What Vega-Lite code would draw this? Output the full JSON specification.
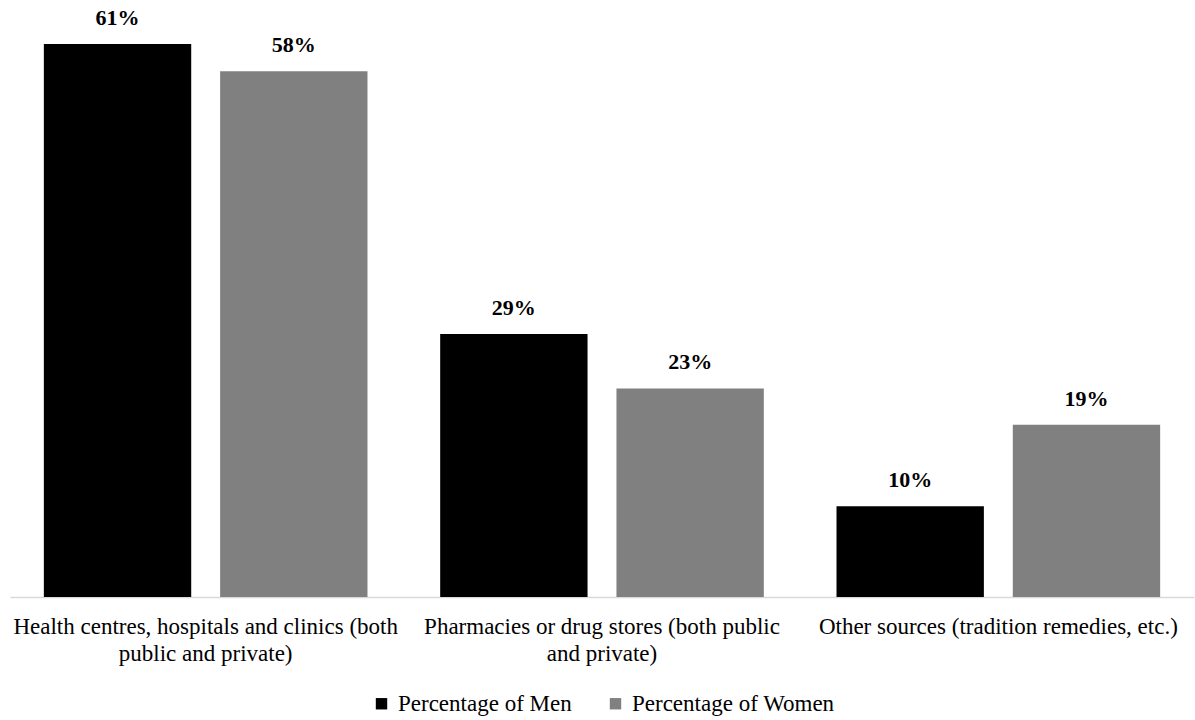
{
  "$schema": "https://vega.github.io/schema/vega-lite/v6.json",
  "width": 1184,
  "height": 597,
  "padding": {"left": 10, "top": 0, "right": 1, "bottom": 5},
  "background": "white",
  "config": {
    "font": "Times New Roman, Liberation Serif, DejaVu Serif, serif",
    "view": {"stroke": null},
    "legend": {"layout": {"bottom": {"anchor": "middle"}}}
  },
  "data": {
    "values": [
      {"source": "Health centres, hospitals and clinics (both|public and private)", "series": "Percentage of Men", "value": 0.61},
      {"source": "Health centres, hospitals and clinics (both|public and private)", "series": "Percentage of Women", "value": 0.58},
      {"source": "Pharmacies or drug stores (both public|and private)", "series": "Percentage of Men", "value": 0.29},
      {"source": "Pharmacies or drug stores (both public|and private)", "series": "Percentage of Women", "value": 0.23},
      {"source": "Other sources (tradition remedies, etc.)", "series": "Percentage of Men", "value": 0.10},
      {"source": "Other sources (tradition remedies, etc.)", "series": "Percentage of Women", "value": 0.19}
    ]
  },
  "encoding": {
    "x": {
      "field": "source",
      "type": "nominal",
      "sort": null,
      "scale": {"paddingInner": 0.1834, "paddingOuter": 0.0854},
      "axis": {
        "title": null,
        "labelAngle": 0,
        "labelExpr": "split(datum.label, '|')",
        "labelFont": "Times New Roman, Liberation Serif, serif",
        "labelFontSize": 23,
        "labelLineHeight": 27,
        "labelColor": "#000000",
        "labelPadding": 18,
        "labelLimit": 500,
        "ticks": false,
        "domainColor": "#d9d9d9",
        "domainWidth": 1.5
      }
    },
    "xOffset": {
      "field": "series",
      "type": "nominal",
      "scale": {"paddingInner": 0.164, "paddingOuter": 0}
    },
    "y": {
      "field": "value",
      "type": "quantitative",
      "scale": {"domain": [0, 0.6585], "nice": false},
      "axis": null
    }
  },
  "layer": [
    {
      "mark": {"type": "bar"},
      "encoding": {
        "color": {
          "field": "series",
          "type": "nominal",
          "scale": {"domain": ["Percentage of Men", "Percentage of Women"], "range": ["#000000", "#808080"]},
          "legend": {
            "title": null,
            "orient": "bottom",
            "direction": "horizontal",
            "symbolType": "square",
            "symbolSize": 130,
            "symbolStrokeWidth": 0,
            "labelFont": "Times New Roman, Liberation Serif, serif",
            "labelFontSize": 23,
            "labelColor": "#000000",
            "labelLimit": 400,
            "columnPadding": 32,
            "labelOffset": 5,
            "offset": 27
          }
        }
      }
    },
    {
      "mark": {"type": "text", "baseline": "bottom", "dy": -14, "fontSize": 22, "fontWeight": "bold", "font": "Times New Roman, Liberation Serif, serif", "color": "#000000"},
      "encoding": {
        "text": {"field": "value", "type": "quantitative", "format": ".0%"},
        "detail": {"field": "series"}
      }
    }
  ]
}
